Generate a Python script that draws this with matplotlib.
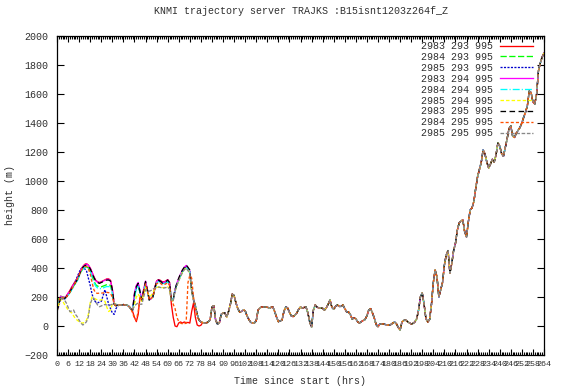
import matplotlib
matplotlib.use('Agg')
import matplotlib.pyplot as plt
from matplotlib.ticker import MultipleLocator

plt.rcParams['lines.scale_dashes'] = False

# Trajectory labels (as in the key)
labels = ['2983 293 995', '2984 293 995', '2985 293 995',
          '2983 294 995', '2984 294 995', '2985 294 995',
          '2983 295 995', '2984 295 995', '2985 295 995']

# Hours since start
hours = list(range(0, 265))

# First 79 hours (0..78): the trajectories still differ
red_early = [110, 160, 205, 200, 195, 205, 225, 245, 270, 290, 310, 330, 360, 390, 410, 425, 430, 420, 400, 370,
             340, 315, 305, 300, 305, 312, 318, 325, 325, 315, 255, 150, 140, 145, 145, 145, 148, 145, 145, 135,
             120, 100, 60, 30, 80, 200, 190, 240, 300, 250, 180, 190, 205, 265, 310, 320, 315, 305, 305, 310,
             320, 300, 150, 60, 0, -5, 21, 28, 20, 28, 21, 25, 20, 100, 159, 60, 7, 0, 5]
green_early = [150, 190, 205, 200, 195, 200, 215, 230, 255, 275, 295, 315, 345, 375, 395, 405, 410, 400, 380, 345,
               310, 285, 275, 270, 270, 275, 280, 285, 285, 280, 230, 150, 140, 145, 145, 145, 148, 145, 145, 135,
               120, 110, 200, 260, 285, 230, 180, 240, 295, 245, 180, 190, 200, 255, 300, 310, 305, 295, 295, 300,
               310, 290, 180, 185, 250, 290, 320, 350, 375, 395, 410, 395, 375, 245, 180, 140, 80, 40, 28]
blue_early = [100, 140, 190, 190, 185, 195, 215, 235, 260, 285, 310, 340, 370, 395, 400, 395, 380, 330, 280, 220,
              180, 165, 160, 165, 170, 210, 250, 200, 150, 120, 90, 80, 120, 140, 145, 145, 148, 145, 145, 135,
              120, 110, 210, 265, 290, 235, 180, 245, 300, 245, 180, 190, 200, 255, 300, 310, 305, 295, 295, 300,
              310, 290, 180, 185, 250, 290, 320, 350, 375, 395, 410, 395, 375, 245, 180, 140, 80, 40, 28]
magenta_early = [105, 155, 205, 200, 195, 205, 225, 240, 265, 285, 305, 325, 355, 385, 410, 420, 428, 418, 400, 368,
                 338, 312, 302, 298, 303, 310, 315, 322, 322, 312, 252, 150, 140, 145, 145, 145, 148, 145, 145, 135,
                 120, 110, 230, 280, 300, 240, 180, 255, 310, 252, 180, 190, 205, 262, 308, 318, 312, 302, 302, 308,
                 318, 300, 180, 180, 250, 296, 330, 360, 386, 405, 418, 400, 380, 250, 180, 140, 80, 40, 28]
cyan_early = [120, 170, 200, 195, 190, 198, 212, 228, 250, 270, 292, 312, 342, 372, 392, 402, 408, 398, 378, 340,
              300, 275, 262, 258, 258, 262, 268, 272, 272, 268, 225, 150, 140, 145, 145, 145, 148, 145, 145, 135,
              120, 110, 200, 255, 280, 228, 180, 238, 290, 242, 180, 190, 200, 252, 296, 306, 300, 292, 292, 296,
              306, 288, 180, 185, 248, 288, 318, 348, 372, 392, 405, 390, 372, 245, 180, 140, 80, 40, 28]
yellow_early = [100, 150, 185, 175, 150, 133, 110, 100, 90, 70, 50, 40, 30, 22, 20, 25, 40, 80, 160, 200,
                195, 185, 180, 178, 180, 182, 170, 130, 100, 110, 150, 160, 145, 145, 145, 145, 148, 145, 145, 135,
                120, 110, 150, 200, 220, 200, 170, 220, 265, 240, 200, 210, 230, 255, 265, 270, 268, 265, 265, 268,
                270, 260, 170, 175, 240, 280, 315, 345, 370, 390, 400, 385, 365, 240, 180, 140, 80, 40, 28]
black_early = [100, 150, 200, 195, 190, 200, 220, 237, 260, 280, 300, 320, 350, 380, 405, 415, 421, 410, 395, 365,
               335, 310, 300, 294, 300, 306, 310, 317, 317, 310, 250, 150, 140, 145, 145, 145, 148, 145, 145, 135,
               120, 110, 220, 271, 294, 237, 180, 250, 306, 250, 180, 190, 202, 260, 306, 317, 310, 300, 300, 306,
               317, 300, 180, 180, 250, 296, 330, 360, 386, 405, 421, 405, 386, 250, 180, 140, 80, 40, 28]
orange_early = [140, 180, 200, 195, 190, 198, 215, 232, 255, 278, 300, 322, 352, 380, 400, 408, 410, 395, 360, 300,
                250, 228, 225, 227, 227, 228, 230, 232, 230, 225, 200, 150, 140, 145, 145, 145, 148, 145, 145, 135,
                120, 90, 50, 40, 100, 200, 185, 235, 290, 240, 180, 190, 200, 250, 290, 300, 295, 285, 285, 290,
                300, 280, 180, 150, 120, 60, 30, 20, 15, 15, 20, 300, 350, 330, 200, 124, 62, 40, 28]
grey_early = [160, 180, 190, 185, 180, 160, 130, 99, 105, 110, 80, 64, 40, 20, 7, 15, 30, 64, 150, 185,
              190, 165, 145, 133, 138, 145, 148, 145, 145, 145, 150, 155, 150, 145, 145, 145, 148, 145, 145, 135,
              120, 110, 140, 150, 160, 150, 150, 200, 250, 250, 240, 245, 255, 262, 265, 268, 266, 262, 262, 265,
              268, 255, 170, 175, 240, 280, 312, 342, 368, 388, 398, 382, 362, 240, 180, 140, 80, 40, 28]

# Hours 79..264: all trajectories run together
tail = [24, 20, 21, 30, 41, 130, 140, 40, 14, 21, 80, 90, 90, 62, 100, 150, 220, 210, 160, 120,
        97, 100, 110, 105, 70, 45, 25, 21, 21, 35, 110, 125, 131, 131, 131, 130, 124, 128, 131, 100,
        62, 30, 35, 41, 100, 131, 125, 95, 70, 65, 75, 90, 115, 131, 124, 128, 131, 90, 28, -7,
        110, 145, 130, 124, 124, 122, 110, 125, 150, 180, 130, 115, 135, 145, 135, 135, 145, 120, 97, 97,
        80, 48, 55, 50, 28, 21, 30, 38, 45, 70, 110, 120, 90, 55, 10, -5, 14, 14, 14, 10,
        7, 7, 10, 20, 28, 15, -10, -28, 28, 38, 41, 30, 22, 14, 18, 28, 50, 110, 200, 228,
        150, 50, 28, 45, 150, 300, 386, 338, 200, 250, 300, 420, 490, 520, 365, 430, 520, 570, 660, 710,
        725, 731, 650, 614, 720, 800, 815, 860, 950, 1030, 1080, 1130, 1214, 1186, 1131, 1090, 1117, 1150, 1130, 1180,
        1262, 1241, 1190, 1170, 1230, 1290, 1360, 1380, 1310, 1300, 1330, 1350, 1370, 1400, 1440, 1475, 1520, 1620, 1610, 1545,
        1531, 1600, 1760, 1814, 1855, 1883]

early = [red_early, green_early, blue_early, magenta_early, cyan_early,
         yellow_early, black_early, orange_early, grey_early]

# gnuplot-like line styles
colors = ['#ff0000', '#00ff00', '#0000cc', '#ff00ff', '#00ffff',
          '#ffff00', '#000000', '#ff5000', '#888888']
dashes = [None, (4.5, 1.8), (1.5, 1.0), None, (5, 1.5, 0.8, 1.5),
          (2.5, 1.5), (4.0, 2.5), (2.2, 1.5), (2.6, 1.2)]

fig = plt.figure(figsize=(5.62, 3.91), dpi=100)
ax = fig.add_axes([57 / 562, 1 - 355 / 391, 487 / 562, 319 / 391])

for lab, first, col, ds in zip(labels, early, colors, dashes):
    heights = first + tail
    line, = ax.plot(hours, heights, color=col, lw=0.95, label=lab)
    if ds is not None:
        line.set_dashes(ds)

mono = 'Liberation Mono'
ax.set_xlim(0, 264)
ax.set_ylim(-200, 2000)
ax.xaxis.set_major_locator(MultipleLocator(6))
ax.xaxis.set_minor_locator(MultipleLocator(1))
ax.yaxis.set_major_locator(MultipleLocator(200))
ax.tick_params(axis='both', which='both', direction='in', top=True, right=True, width=0.8)
ax.tick_params(axis='x', which='major', length=4, pad=4)
ax.tick_params(axis='x', which='minor', length=2)
ax.tick_params(axis='y', which='major', length=5, pad=6)
for sp in ax.spines.values():
    sp.set_linewidth(0.9)

for t in ax.get_xticklabels():
    t.set_fontfamily(mono)
    t.set_fontsize(6.0)
    t.set_color('#303030')
for t in ax.get_yticklabels():
    t.set_fontfamily(mono)
    t.set_fontsize(7.2)
    t.set_color('#303030')

ax.set_title('KNMI trajectory server TRAJKS :B15isnt1203z264f_Z', fontfamily=mono,
             fontsize=7.2, color='#303030', pad=16)
ax.set_xlabel('Time since start (hrs)', fontfamily=mono, fontsize=7.2, color='#303030', labelpad=6)
ax.set_ylabel('height (m)', fontfamily=mono, fontsize=7.2, color='#303030', labelpad=7)

ax.legend(loc='upper right', bbox_to_anchor=(533 / 562, 1 - 41 / 391), bbox_transform=fig.transFigure,
          frameon=False, markerfirst=False, handlelength=3.3, handletextpad=0.7, labelspacing=0.09,
          borderpad=0, borderaxespad=0, prop={'family': mono, 'size': 7.2}, labelcolor='#303030')

plt.savefig('out.png', dpi=100)
